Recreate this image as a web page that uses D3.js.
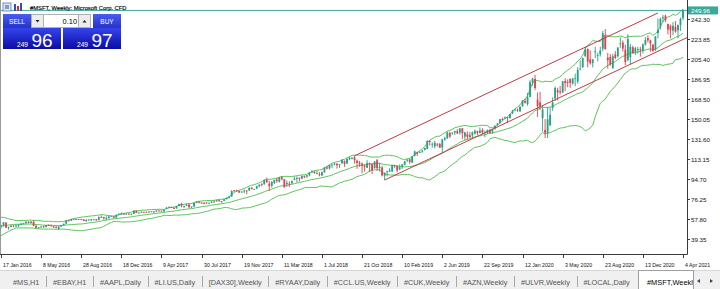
<!DOCTYPE html>
<html>
<head>
<meta charset="utf-8">
<script src="https://cdn.jsdelivr.net/npm/d3@7"></script>
<style>
  body { margin: 0; background: #fff; }
  svg { display: block; font-family: "Liberation Sans", Arial, sans-serif; }
</style>
</head>
<body>
<svg id="chart" width="720" height="289"></svg>
<script>

// closes of the 19 weeks before the first bar (Aug 30 2015 .. Jan 3 2016), only used to warm up the bands
var warmupCloses = [42.61,43.48,43.48,43.94,45.57,47.11,47.51,52.87,52.64,54.92,53.51,54.19,53.93,55.91,54.06,54.13,55.67,55.48,52.33];

// weekly bars, first one = week of 10 Jan 2016 (index -1, half off the left edge)
var opens = [
  // 2016
  52.8,50.9,52.2,54.7,49.9,50.6,51.9,51.4,51.9,53.1,53.5,54.2,55.4,54.4,55.5,51.9,49.9,50.3,51.0,50.7,52.4,51.9,51.1,50.4,49.1,51.1,52.3,53.8,56.7,56.6,57.9,58.0,57.6,58.0,57.6,56.0,57.3,57.2,57.4,57.8,57.3,59.9,59.9,58.7,59.0,60.3,60.3,59.4,61.9,62.2,63.1,
  // 2017
  62.8,62.8,62.6,62.9,65.7,63.5,64.1,64.6,64.5,64.0,65.0,64.9,64.8,65.8,65.6,65.0,67.5,68.7,68.9,68.1,67.8,70.0,72.0,69.2,70.1,71.4,69.3,69.5,72.8,73.9,73.1,72.8,73.1,72.5,73.1,74.0,74.3,75.2,73.6,74.7,76.3,77.4,78.9,84.4,84.2,83.8,82.5,83.4,84.2,84.3,86.8,85.3,86.1,
  // 2018
  88.2,90.1,90.0,93.8,90.6,88.7,91.2,94.3,92.3,96.5,94.7,90.2,90.5,91.0,94.0,95.0,96.0,95.2,97.3,97.0,98.3,101.2,101.5,100.0,99.5,98.1,101.2,105.4,104.5,107.7,108.1,109.0,107.7,109.3,111.6,109.0,113.0,113.4,114.8,111.7,109.7,108.9,107.2,105.2,109.4,108.6,104.8,112.1,104.8,105.4,97.7,101.3,
  // 2019
  101.6,101.9,107.0,106.6,103.8,106.2,107.8,111.8,113.0,109.9,116.2,119.5,118.9,120.1,121.6,122.6,129.8,126.4,124.9,126.5,126.9,123.9,131.2,132.3,137.2,136.6,137.5,138.9,137.6,141.5,133.8,136.0,135.1,134.9,136.6,139.1,137.1,140.1,138.1,137.1,139.7,138.5,141.3,144.8,146.7,150.0,150.4,151.8,151.0,155.1,158.1,158.8,
  // 2020
  157.1,161.8,166.7,163.8,170.4,183.6,186.9,167.8,165.3,151.0,140.0,137.0,144.3,160.3,169.0,176.6,175.6,174.5,185.0,184.0,186.8,182.6,187.5,184.6,195.8,197.6,208.0,214.5,205.0,201.5,211.5,208.8,209.6,214.8,227.0,206.5,207.2,197.2,209.4,208.0,218.8,220.4,213.8,204.3,206.8,216.0,211.8,214.1,214.4,213.1,218.6,224.5,
  // 2021
  222.5,218.5,213.8,229.1,235.1,242.7,245.0,237.4,235.9,231.4,234.9,231.6,236.6,242.8
];
var highs = [
  53.3,52.6,55.1,55.0,51.0,52.4,52.4,52.9,53.1,54.6,54.3,55.6,55.9,56.0,56.8,52.1,50.6,51.3,51.9,52.4,53.0,52.7,51.6,51.7,51.3,52.4,53.7,56.9,57.3,58.1,58.5,58.2,58.2,58.3,57.8,57.8,57.8,58.0,58.0,58.0,60.5,61.4,60.0,60.5,60.6,61.0,61.0,62.0,63.5,64.1,63.4,
  63.2,63.4,63.1,66.0,65.8,64.1,65.2,64.8,64.9,65.0,65.2,65.5,65.9,66.0,65.9,66.7,69.1,69.7,69.4,69.0,70.0,72.0,72.9,70.4,71.9,71.7,69.6,72.8,74.3,74.4,73.4,73.6,73.6,73.3,74.7,75.0,75.6,75.7,74.6,76.3,77.7,78.9,84.5,84.7,84.9,84.1,83.6,85.1,84.5,86.9,87.3,85.9,88.6,
  89.8,91.0,94.1,96.1,93.2,93.0,94.1,95.9,96.5,97.2,94.7,93.5,92.7,93.3,97.0,97.0,96.3,97.9,98.0,98.4,100.9,103.0,102.3,102.5,101.2,101.7,105.5,107.0,108.2,108.5,109.7,109.2,108.5,112.8,111.8,113.7,115.3,115.0,116.2,112.8,111.5,110.1,108.0,112.2,109.9,108.6,111.3,113.4,110.0,107.0,101.0,102.4,
  104.9,108.0,108.0,107.5,108.2,108.4,111.7,113.2,113.3,116.0,120.8,119.9,120.3,121.5,123.5,130.6,130.5,128.6,130.0,128.0,128.0,131.5,133.8,138.4,138.4,137.7,139.2,140.7,141.7,141.7,138.3,138.7,138.2,138.5,140.4,139.2,142.4,141.5,139.5,140.3,141.0,141.0,144.4,146.4,150.0,151.3,152.5,151.9,154.9,158.5,159.0,159.6,
  161.7,167.5,168.7,174.1,185.8,188.0,190.7,174.4,175.0,162.0,150.0,161.0,160.6,170.0,180.0,178.8,180.4,185.0,187.5,186.5,187.5,187.7,191.8,197.7,203.9,206.3,216.4,215.0,213.3,205.1,216.4,211.2,216.6,231.2,232.9,211.0,209.8,210.0,212.5,216.0,225.2,222.3,218.3,228.1,219.0,217.5,216.5,216.4,216.4,219.6,225.6,227.0,
  223.0,218.9,226.3,242.6,243.2,245.9,246.1,237.9,237.0,239.2,240.1,237.0,243.3,251.0
];
var lows = [
  49.5,49.1,51.2,49.6,48.2,50.5,50.6,50.6,50.6,52.6,53.0,53.7,53.9,54.0,51.5,49.4,49.3,50.0,50.0,50.3,51.5,51.4,49.8,49.6,48.0,50.7,51.9,53.2,55.9,56.0,57.4,57.2,57.1,57.4,56.2,55.6,56.6,56.1,57.0,56.3,56.6,59.4,57.3,56.8,58.2,60.2,58.8,58.8,61.8,62.0,62.1,
  61.9,62.1,61.9,62.6,63.4,62.8,63.9,63.7,63.6,64.0,64.4,63.7,64.7,65.1,64.8,64.9,67.1,68.5,68.1,67.1,67.6,69.6,68.8,68.0,69.9,68.0,68.0,69.2,72.6,72.4,72.2,71.6,72.1,72.1,72.7,73.5,74.1,73.8,72.9,74.6,76.0,76.9,78.2,82.9,83.1,81.9,82.1,81.6,80.7,84.0,85.4,85.0,85.5,
  87.1,88.0,89.6,91.5,83.8,86.8,90.1,91.2,91.6,93.6,87.0,87.5,87.5,90.4,93.7,91.6,92.5,94.6,95.6,95.9,97.3,100.4,99.8,99.2,97.3,97.5,100.5,103.7,103.5,104.8,107.5,104.4,105.0,109.0,106.1,108.8,112.1,112.9,109.0,104.2,106.0,100.1,101.6,104.8,101.2,99.4,104.4,102.4,101.7,97.2,93.9,97.2,
  101.3,101.3,104.8,100.9,103.0,104.3,107.3,110.5,108.8,109.5,115.6,116.0,118.6,118.9,121.1,122.5,125.5,123.6,123.0,124.7,123.6,119.0,130.0,131.9,132.6,135.7,135.4,136.4,135.7,131.5,130.8,131.1,132.8,132.1,135.7,135.1,136.9,135.9,133.2,136.2,136.3,136.3,140.2,143.8,145.3,148.5,150.0,146.6,150.3,154.6,157.1,156.5,
  156.5,161.3,164.3,162.3,170.1,180.8,176.6,152.0,158.3,138.6,132.5,132.5,143.6,157.6,166.5,167.0,172.6,173.8,175.7,179.3,178.8,181.7,180.2,182.5,194.8,197.2,207.0,197.5,200.0,197.5,206.0,203.1,207.6,212.4,214.0,196.3,199.0,196.0,205.0,206.5,215.5,212.2,199.6,203.1,200.1,210.5,208.9,210.2,207.4,210.4,217.5,220.4,
  211.9,211.9,212.6,224.2,232.4,239.1,239.2,227.9,224.3,227.1,229.4,224.3,231.1,241.0
];
var closes = [
  50.99,52.29,55.09,50.16,50.5,51.82,51.3,52.03,53.07,53.49,54.21,55.57,54.42,55.65,51.78,49.87,50.39,51.08,50.62,52.32,51.79,51.48,50.13,49.83,51.16,52.3,53.7,56.57,56.68,57.96,58.02,57.62,58.03,57.67,56.21,57.25,57.43,57.6,57.8,57.42,59.66,59.87,58.71,59.02,60.35,60.53,59.25,61.97,62.3,63.24,62.14,
  62.84,62.7,62.74,65.78,63.68,64.0,64.62,64.49,64.25,64.93,64.87,64.98,65.86,65.68,64.95,66.4,68.46,69.0,68.38,67.69,69.96,71.76,70.32,70.0,71.21,68.93,69.46,72.78,73.79,73.04,72.68,72.5,72.49,72.82,73.94,73.98,75.31,74.41,74.49,76.29,77.49,78.81,83.81,84.14,84.09,82.4,83.26,84.26,84.16,86.85,85.51,85.54,88.19,
  89.6,90.0,94.06,91.78,88.18,92.0,94.06,93.05,96.54,94.6,87.18,91.27,90.23,93.08,95.0,95.82,95.16,97.7,96.36,98.36,100.79,101.63,100.13,100.41,98.61,101.16,105.43,104.4,107.68,108.04,109.0,107.58,108.4,112.33,108.74,113.37,114.26,114.26,112.13,109.57,108.66,106.96,106.16,109.57,108.29,103.07,110.89,104.82,106.03,98.23,100.39,102.06,
  102.8,107.71,107.17,102.78,105.67,108.22,110.97,112.53,110.51,115.91,120.22,117.94,119.89,120.95,123.37,129.89,128.9,127.13,128.07,126.24,123.68,131.4,132.45,137.78,133.96,137.46,138.9,136.62,141.34,136.9,137.71,133.68,133.39,137.86,139.1,137.32,139.44,137.73,138.12,139.68,137.41,140.73,143.72,145.96,149.97,149.59,151.38,151.75,154.53,157.41,158.96,158.62,
  161.34,167.1,165.04,170.23,183.89,187.2,178.59,162.01,161.57,158.83,137.35,149.7,153.83,165.14,178.6,174.55,174.57,184.68,183.16,183.51,183.25,187.2,187.74,195.15,196.33,206.26,213.67,202.88,201.3,205.01,212.48,208.9,213.02,228.91,214.25,204.03,200.39,207.82,206.19,215.81,219.66,214.89,202.47,223.72,216.51,210.39,215.23,214.36,213.26,218.59,222.75,222.42,
  219.62,212.65,225.95,231.96,242.2,243.7,240.97,232.38,231.6,235.75,230.35,236.48,242.35,249.96
];

// trend channel drawn on the chart: [week index, price]
var channelUpper = [[141, 116.2], [262, 247.6]];
var channelLower = [[153, 93.9], [274, 225.4]];

var bidPrice = 249.96;
var sellPrice = ["249", "96"];
var buyPrice = ["249", "97"];
var lotSize = "0.10";

var priceTicks = [39.35, 57.80, 76.25, 94.70, 113.15, 131.60, 150.05, 168.50, 186.95, 205.40, 223.85, 242.30];
var dateLabels = ["17 Jan 2016","8 May 2016","28 Aug 2016","18 Dec 2016","9 Apr 2017","30 Jul 2017","19 Nov 2017","11 Mar 2018","1 Jul 2018","21 Oct 2018","10 Feb 2019","2 Jun 2019","22 Sep 2019","12 Jan 2020","3 May 2020","23 Aug 2020","13 Dec 2020","4 Apr 2021"];
var labelEvery = 16; // weeks between date labels

var tabNames = ["#MS,H1","#EBAY,H1","#AAPL,Daily","#LI.US,Daily","[DAX30],Weekly","#RYAAY,Daily","#CCL.US,Weekly","#CUK,Weekly","#AZN,Weekly","#ULVR,Weekly","#LOCAL,Daily"];
var activeTab = "#MSFT,Weekly";

var bandPeriod = 20, bandDev = 2;
var firstIndex = -1;

var plotRight = 687, plotBottom = 254;
var bullColor = "#24a186", bearColor = "#e2404a";
var bandColor = "#5cc45c", channelColor = "#c23a44", bidColor = "#3aa89a";

var svg = d3.select("#chart");

var x = d3.scaleLinear().domain([0, 272]).range([1, 683]);
var y = d3.scaleLinear().domain([25.82, 259.55]).range([plotBottom, 0]);

var defs = svg.append("defs");
defs.append("clipPath").attr("id", "plotClip")
  .append("rect").attr("x", 1).attr("y", 0).attr("width", plotRight - 1).attr("height", plotBottom);

var gBlue = defs.append("linearGradient").attr("id", "blueBox").attr("x1", 0).attr("x2", 0).attr("y1", 0).attr("y2", 1);
gBlue.append("stop").attr("offset", "0%").attr("stop-color", "#3444ec");
gBlue.append("stop").attr("offset", "100%").attr("stop-color", "#0c0ca6");
var gBtn = defs.append("linearGradient").attr("id", "blueBtn").attr("x1", 0).attr("x2", 0).attr("y1", 0).attr("y2", 1);
gBtn.append("stop").attr("offset", "0%").attr("stop-color", "#4b5cf0");
gBtn.append("stop").attr("offset", "100%").attr("stop-color", "#2433c8");

var plot = svg.append("g").attr("clip-path", "url(#plotClip)");

// bollinger bands (20, 2) from closes
var allCloses = warmupCloses.concat(closes);
var bands = [];
for (var k = bandPeriod - 1; k < allCloses.length; k++) {
  var win = allCloses.slice(k - bandPeriod + 1, k + 1);
  var m = d3.mean(win);
  var sd = Math.sqrt(d3.mean(win, function(v) { return (v - m) * (v - m); }));
  bands.push({ i: k - warmupCloses.length + firstIndex, mid: m, up: m + bandDev * sd, lo: m - bandDev * sd });
}
["up", "mid", "lo"].forEach(function(key) {
  plot.append("path")
    .datum(bands)
    .attr("fill", "none")
    .attr("stroke", bandColor)
    .attr("stroke-width", 1)
    .attr("d", d3.line().x(function(d) { return x(d.i); }).y(function(d) { return y(d[key]); }));
});

// bid line
plot.append("line")
  .attr("x1", 0).attr("x2", plotRight)
  .attr("y1", y(bidPrice)).attr("y2", y(bidPrice))
  .attr("stroke", bidColor).attr("stroke-width", 1);

// candles
var bars = opens.map(function(o, j) {
  return { i: j + firstIndex, o: o, h: highs[j], l: lows[j], c: closes[j] };
});
var candle = plot.selectAll("g.candle").data(bars).enter().append("g").attr("class", "candle");
candle.append("line")
  .attr("x1", function(d) { return x(d.i); })
  .attr("x2", function(d) { return x(d.i); })
  .attr("y1", function(d) { return y(Math.max(d.h, d.o, d.c)); })
  .attr("y2", function(d) { return y(Math.min(d.l, d.o, d.c)); })
  .attr("stroke", function(d) { return d.c >= d.o ? bullColor : bearColor; })
  .attr("stroke-width", 0.9);
candle.append("rect")
  .attr("x", function(d) { return x(d.i) - 0.9; })
  .attr("width", 1.8)
  .attr("y", function(d) { return y(Math.max(d.o, d.c)); })
  .attr("height", function(d) { return Math.max(0.8, Math.abs(y(d.o) - y(d.c))); })
  .attr("fill", function(d) { return d.c >= d.o ? bullColor : bearColor; });

// channel
[channelUpper, channelLower].forEach(function(seg) {
  plot.append("line")
    .attr("x1", x(seg[0][0])).attr("y1", y(seg[0][1]))
    .attr("x2", x(seg[1][0])).attr("y2", y(seg[1][1]))
    .attr("stroke", channelColor).attr("stroke-width", 1);
});

// frame
svg.append("line").attr("x1", 0.5).attr("x2", 0.5).attr("y1", 0).attr("y2", plotBottom)
  .attr("stroke", "#9a9a9a").attr("stroke-width", 1);
svg.append("line").attr("x1", plotRight + 0.5).attr("x2", plotRight + 0.5).attr("y1", 0).attr("y2", plotBottom + 0.5)
  .attr("stroke", "#3c3c3c").attr("stroke-width", 1);
svg.append("line").attr("x1", 0).attr("x2", plotRight + 0.5).attr("y1", plotBottom + 0.5).attr("y2", plotBottom + 0.5)
  .attr("stroke", "#3c3c3c").attr("stroke-width", 1);

// price axis
var yAxis = svg.append("g");
priceTicks.forEach(function(p) {
  var yy = Math.round(y(p)) + 0.5;
  yAxis.append("line").attr("x1", plotRight).attr("x2", plotRight + 3).attr("y1", yy).attr("y2", yy)
    .attr("stroke", "#3c3c3c");
  yAxis.append("text").attr("x", plotRight + 4).attr("y", yy + 2.2)
    .attr("font-size", "6.2px").attr("fill", "#111").text(p.toFixed(2));
});
var by = y(bidPrice);
yAxis.append("rect").attr("x", plotRight + 1).attr("y", by - 4).attr("width", 30).attr("height", 8).attr("fill", bidColor);
yAxis.append("text").attr("x", plotRight + 4).attr("y", by + 2.2)
  .attr("font-size", "6.2px").attr("fill", "#fff").text(bidPrice.toFixed(2));

// time axis
var xAxis = svg.append("g");
dateLabels.forEach(function(lab, n) {
  var xx = Math.round(x(n * labelEvery)) + 0.5;
  xAxis.append("line").attr("x1", xx).attr("x2", xx).attr("y1", plotBottom).attr("y2", plotBottom + 4)
    .attr("stroke", "#3c3c3c");
  xAxis.append("text").attr("x", xx + 1.5).attr("y", 267)
    .attr("font-size", "5.2px").attr("fill", "#111").text(lab);
});

// title + icons
svg.append("rect").attr("x", 3).attr("y", 3).attr("width", 8).attr("height", 8).attr("fill", "#dfe6f2").attr("stroke", "#5a78b8").attr("stroke-width", 0.8);
svg.append("rect").attr("x", 5).attr("y", 5).attr("width", 4).attr("height", 4).attr("fill", "#7d9ad6");
svg.append("rect").attr("x", 14).attr("y", 4).attr("width", 2).attr("height", 7).attr("fill", "#2d4fc0");
svg.append("rect").attr("x", 17).attr("y", 6).attr("width", 2).attr("height", 5).attr("fill", "#d23030");
svg.append("rect").attr("x", 20).attr("y", 3).attr("width", 2).attr("height", 8).attr("fill", "#2d4fc0");
svg.append("text").attr("x", 30).attr("y", 9.5).attr("font-size", "5.8px").attr("fill", "#000")
  .attr("stroke", "#000").attr("stroke-width", 0.15)
  .text("#MSFT, Weekly:  Microsoft Corp. CFD");

// one click trading panel
var panel = svg.append("g");
panel.append("rect").attr("x", 3).attr("y", 14).attr("width", 28).attr("height", 14).attr("fill", "url(#blueBtn)");
panel.append("text").attr("x", 17).attr("y", 23.5).attr("text-anchor", "middle").attr("font-size", "6.5px").attr("fill", "#fff").text("SELL");
panel.append("rect").attr("x", 31.5).attr("y", 14.5).attr("width", 12).attr("height", 13).attr("fill", "#ececec").attr("stroke", "#b0b0b0");
panel.append("path").attr("d", "M35.5,20 L39.5,20 L37.5,22.5 Z").attr("fill", "#222");
panel.append("rect").attr("x", 43.5).attr("y", 14.5).attr("width", 35).attr("height", 13).attr("fill", "#fff").attr("stroke", "#b0b0b0");
panel.append("text").attr("x", 77).attr("y", 23.7).attr("text-anchor", "end").attr("font-size", "7.4px").attr("fill", "#000").text(lotSize);
panel.append("rect").attr("x", 78.5).attr("y", 14.5).attr("width", 12).attr("height", 13).attr("fill", "#ececec").attr("stroke", "#b0b0b0");
panel.append("path").attr("d", "M82.5,22.5 L86.5,22.5 L84.5,20 Z").attr("fill", "#222");
panel.append("rect").attr("x", 93).attr("y", 14).attr("width", 28).attr("height", 14).attr("fill", "url(#blueBtn)");
panel.append("text").attr("x", 107).attr("y", 23.5).attr("text-anchor", "middle").attr("font-size", "6.5px").attr("fill", "#fff").text("BUY");

[[3, sellPrice], [63, buyPrice]].forEach(function(b) {
  panel.append("rect").attr("x", b[0]).attr("y", 28).attr("width", 58).attr("height", 21).attr("fill", "url(#blueBox)");
  panel.append("text").attr("x", b[0] + 14).attr("y", 46.5).attr("font-size", "6.6px").attr("fill", "#fff").text(b[1][0]);
  panel.append("text").attr("x", b[0] + 28.5).attr("y", 46.5).attr("font-size", "19px").attr("fill", "#fff").text(b[1][1]);
});

// terminal tabs
var tabs = svg.append("g");
tabs.append("rect").attr("x", 0).attr("y", 270).attr("width", 720).attr("height", 19).attr("fill", "#f0f0f0");
tabs.append("line").attr("x1", 0).attr("x2", 720).attr("y1", 270.5).attr("y2", 270.5).attr("stroke", "#d6d6d6");
var tx = 13;
tabNames.forEach(function(name, n) {
  var t = tabs.append("text").attr("x", tx).attr("y", 284.5).attr("font-size", "7.3px").attr("fill", "#555").text(name);
  tx += t.node().getComputedTextLength();
  if (n < tabNames.length - 1) {
    tx += 6.8;
    tabs.append("line").attr("x1", Math.round(tx) + 0.5).attr("x2", Math.round(tx) + 0.5).attr("y1", 276).attr("y2", 287)
      .attr("stroke", "#a8a8a8");
    tx += 6.8;
  }
});
tabs.append("clipPath").attr("id", "tabClip").append("rect").attr("x", 638).attr("y", 270).attr("width", 55).attr("height", 19);
tabs.append("rect").attr("x", 638.5).attr("y", 270.5).attr("width", 55).attr("height", 19).attr("fill", "#fff").attr("stroke", "#a0a0a0");
tabs.append("text").attr("x", 647).attr("y", 284.5).attr("font-size", "7.4px").attr("fill", "#000")
  .attr("clip-path", "url(#tabClip)").text(activeTab);
tabs.append("path").attr("d", "M697,281 L700,279 L700,283 Z").attr("fill", "#444");
tabs.append("path").attr("d", "M713,281 L710,279 L710,283 Z").attr("fill", "#444");

</script>
</body>
</html>
